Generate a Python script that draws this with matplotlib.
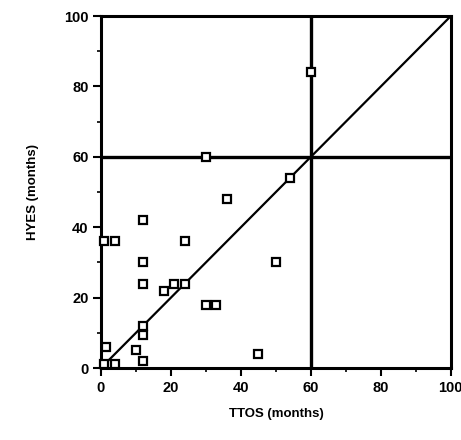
import numpy as np
import matplotlib.pyplot as plt
from matplotlib.ticker import MultipleLocator

plt.rcParams['font.family'] = ['Liberation Sans', 'DejaVu Sans']

############################################################
# data
ttos = [1, 4, 1, 4, 1.5, 10, 12, 12, 12, 12, 12, 12, 18, 21, 24, 24,
        30, 33, 30, 36, 45, 50, 54, 60]
hyes = [1, 1, 36, 36, 6, 5, 2, 9.5, 12, 24, 30, 42, 22, 24, 24, 36,
        18, 18, 60, 48, 4, 30, 54, 84]
cut_x = 60
cut_y = 60
ticks = [0, 20, 40, 60, 80, 100]

############################################################
# Plotting
fig = plt.figure(figsize=(4.61, 4.40), dpi=100)
ax = fig.add_axes([0.219, 0.1636, 0.759, 0.80])

ax.plot([0, 100], [0, 100], ls='-', lw=1.6, color='k')
ax.axvline(cut_x, color='k', lw=2.4)
ax.axhline(cut_y, color='k', lw=2.4)
ax.plot(ttos, hyes, ls='none', marker='s', ms=5.5, mew=1.6,
        mfc='white', mec='k', zorder=5, clip_on=False)

ax.set_xlim(0, 100)
ax.set_ylim(0, 100)
ax.set_xticks(ticks)
ax.set_yticks(ticks)
ax.xaxis.set_minor_locator(MultipleLocator(10))
ax.yaxis.set_minor_locator(MultipleLocator(10))
ax.tick_params(which='major', direction='out', length=6, width=1.5,
               labelsize=10.5, pad=3)
ax.tick_params(which='minor', direction='out', length=3, width=1.2)
for lab in ax.get_xticklabels() + ax.get_yticklabels():
    lab.set_fontweight('bold')
for sp in ax.spines.values():
    sp.set_linewidth(2.2)

ax.set_xlabel('TTOS (months)', fontsize=9.5, fontweight='bold', labelpad=10)
ax.set_ylabel('HYES (months)', fontsize=9.5, fontweight='bold', labelpad=18)

plt.savefig('out.png', dpi=100)
